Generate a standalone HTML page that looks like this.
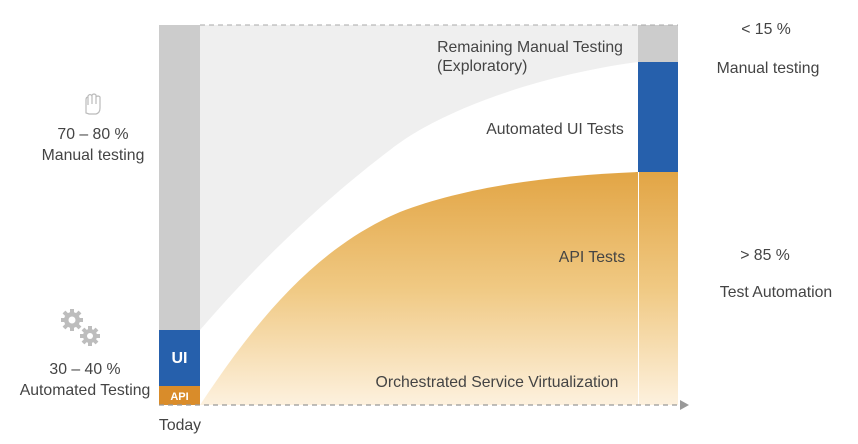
<!DOCTYPE html>
<html><head><meta charset="utf-8"><style>
body{margin:0;background:#fff;}
svg text{font-family:"Liberation Sans",sans-serif;fill:#444;}
</style></head><body>
<svg width="858" height="439" viewBox="0 0 858 439" xmlns="http://www.w3.org/2000/svg">
<defs>
<linearGradient id="og2" x1="0" y1="172" x2="0" y2="405" gradientUnits="userSpaceOnUse">
<stop offset="0" stop-color="#e2a545"/><stop offset="0.5" stop-color="#f0c983"/><stop offset="1" stop-color="#fdf1de"/>
</linearGradient>
</defs>
<path d="M200,25 L638,25 L638,62 C540,75 440,110 390,150 C330,195 260,260 200,330 Z" fill="#efefef"/>
<path d="M200,405 C250,330 310,250 400,212 C470,185 560,175 638,172 L638,405 Z" fill="url(#og2)"/>
<rect x="159" y="25" width="41" height="305" fill="#cccccc"/>
<rect x="159" y="330" width="41" height="56" fill="#2660ac"/>
<rect x="159" y="386" width="41" height="19" fill="#d98c2a"/>
<text x="179.5" y="363" text-anchor="middle" font-size="16" font-weight="bold" style="fill:#fff">UI</text>
<text x="179.5" y="400" text-anchor="middle" font-size="11" font-weight="bold" style="fill:#fff">API</text>
<rect x="638" y="25" width="40" height="37" fill="#cccccc"/>
<rect x="638" y="62" width="40" height="110" fill="#2660ac"/>
<rect x="639" y="172" width="39" height="233" fill="url(#og2)"/>
<line x1="200" y1="25" x2="678" y2="25" stroke="#aaa" stroke-dasharray="5,4" stroke-width="1"/>
<line x1="159" y1="405" x2="682" y2="405" stroke="#999" stroke-dasharray="5,4" stroke-width="1.2"/>
<polygon points="680,400 689,405 680,410" fill="#999"/>
<text x="530" y="52" text-anchor="middle" font-size="15.8">Remaining Manual Testing</text>
<text x="437" y="71" font-size="15.8">(Exploratory)</text>
<text x="555" y="134" text-anchor="middle" font-size="15.8">Automated UI Tests</text>
<text x="592" y="262" text-anchor="middle" font-size="15.8">API Tests</text>
<text x="497" y="387" text-anchor="middle" font-size="15.8">Orchestrated Service Virtualization</text>
<text x="180" y="430" text-anchor="middle" font-size="15.8">Today</text>
<text x="766" y="34" text-anchor="middle" font-size="15.8">&lt; 15 %</text>
<text x="768" y="73" text-anchor="middle" font-size="15.8">Manual testing</text>
<text x="765" y="260" text-anchor="middle" font-size="15.8">&gt; 85 %</text>
<text x="776" y="297" text-anchor="middle" font-size="15.8">Test Automation</text>
<text x="93" y="139" text-anchor="middle" font-size="15.8">70 – 80 %</text>
<text x="93" y="160" text-anchor="middle" font-size="15.8">Manual testing</text>
<text x="85" y="374" text-anchor="middle" font-size="15.8">30 – 40 %</text>
<text x="85" y="395" text-anchor="middle" font-size="15.8">Automated Testing</text>
<path d="M86,113 L86,100 Q86,97 88,97 L88,105 L88,96 Q90,93 92,96 L92,104 L92,95 Q94,93 96,95 L96,104 L96,97 Q98,95 100,97 L100,108 Q100,113 96,114 L89,114 Z" fill="none" stroke="#bbb" stroke-width="1.2"/>
<g fill="#bdbdbd">
<circle cx="72" cy="320" r="8"/>
<g stroke="#bdbdbd" stroke-width="4">
<line x1="72" y1="309" x2="72" y2="331"/><line x1="61" y1="320" x2="83" y2="320"/>
<line x1="64" y1="312" x2="80" y2="328"/><line x1="64" y1="328" x2="80" y2="312"/>
<line x1="90" y1="326" x2="90" y2="346"/><line x1="80" y1="336" x2="100" y2="336"/>
<line x1="83" y1="329" x2="97" y2="343"/><line x1="83" y1="343" x2="97" y2="329"/>
</g>
<circle cx="90" cy="336" r="7"/>
</g>
<circle cx="72" cy="320" r="3.5" fill="#fff"/>
<circle cx="90" cy="336" r="3" fill="#fff"/>
</svg>
</body></html>
